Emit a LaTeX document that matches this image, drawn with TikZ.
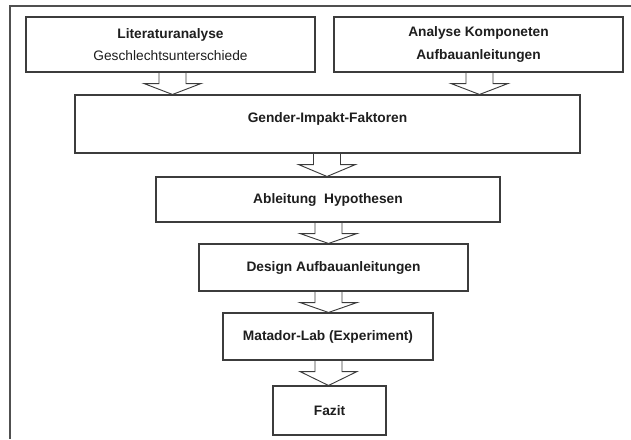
\documentclass[tikz,border=0pt]{standalone}
\usepackage{fontspec}
\setmainfont{Liberation Sans}
\usetikzlibrary{calc}
\definecolor{edge}{HTML}{3C3C3C}
\definecolor{txt}{HTML}{1E1E1E}
\begin{document}
\begin{tikzpicture}[x=0.75pt,y=-0.75pt,
  box/.style={draw=edge,line width=0.8pt,fill=white,inner sep=0pt,align=center,
    text=txt,font=\fontsize{10.3}{16.8}\selectfont\bfseries},
  barrow/.style={draw=edge,line width=0.7pt,line join=miter},
  frame/.style={draw=edge!90,line width=1.3pt}]
\useasboundingbox (0,0) rectangle (631,439);
\draw[frame] (631,6) -- (10,6) -- (10,439);
% boxes
\node[box,minimum width=289*0.75pt,minimum height=55*0.75pt] (b1) at (170.5,44.5)
  {Literaturanalyse\\{\mdseries Geschlechtsunterschiede}};
\node[box,minimum width=289*0.75pt,minimum height=55*0.75pt] (b2) at (478.5,44.5)
  {Analyse Komponeten\\Aufbauanleitungen};
\node[box,minimum width=505*0.75pt,minimum height=58*0.75pt,text depth=10pt] (b3) at (327.5,124)
  {Gender-Impakt-Faktoren};
\node[box,minimum width=344*0.75pt,minimum height=45*0.75pt] (b4) at (328,199.5)
  {Ableitung~ Hypothesen};
\node[box,minimum width=269*0.75pt,minimum height=47*0.75pt] (b5) at (333.5,267.5)
  {Design Aufbauanleitungen};
\node[box,minimum width=210*0.75pt,minimum height=47*0.75pt] (b6) at (328,336.5)
  {Matador-Lab (Experiment)};
\node[box,minimum width=113*0.75pt,minimum height=49*0.75pt] (b7) at (329.5,410.5)
  {Fazit};
% block arrows: #1 from node, #2 to node, #3 x of centre
\newcommand\blockarr[3]{%
  \draw[barrow] ($(#3,0 |- #1.south)+(-13.5,0)$) -- ++(0,11) -- ++(-15,0)
    -- (#3,0 |- #2.north) -- ($(#3,0 |- #1.south)+(28.5,11)$) -- ++(-15,0)
    -- ($(#3,0 |- #1.south)+(13.5,0)$);}
\blockarr{b1}{b3}{172.5}
\blockarr{b2}{b3}{479.5}
\blockarr{b3}{b4}{327}
\blockarr{b4}{b5}{328.5}
\blockarr{b5}{b6}{328.5}
\blockarr{b6}{b7}{328.5}
\end{tikzpicture}
\end{document}
